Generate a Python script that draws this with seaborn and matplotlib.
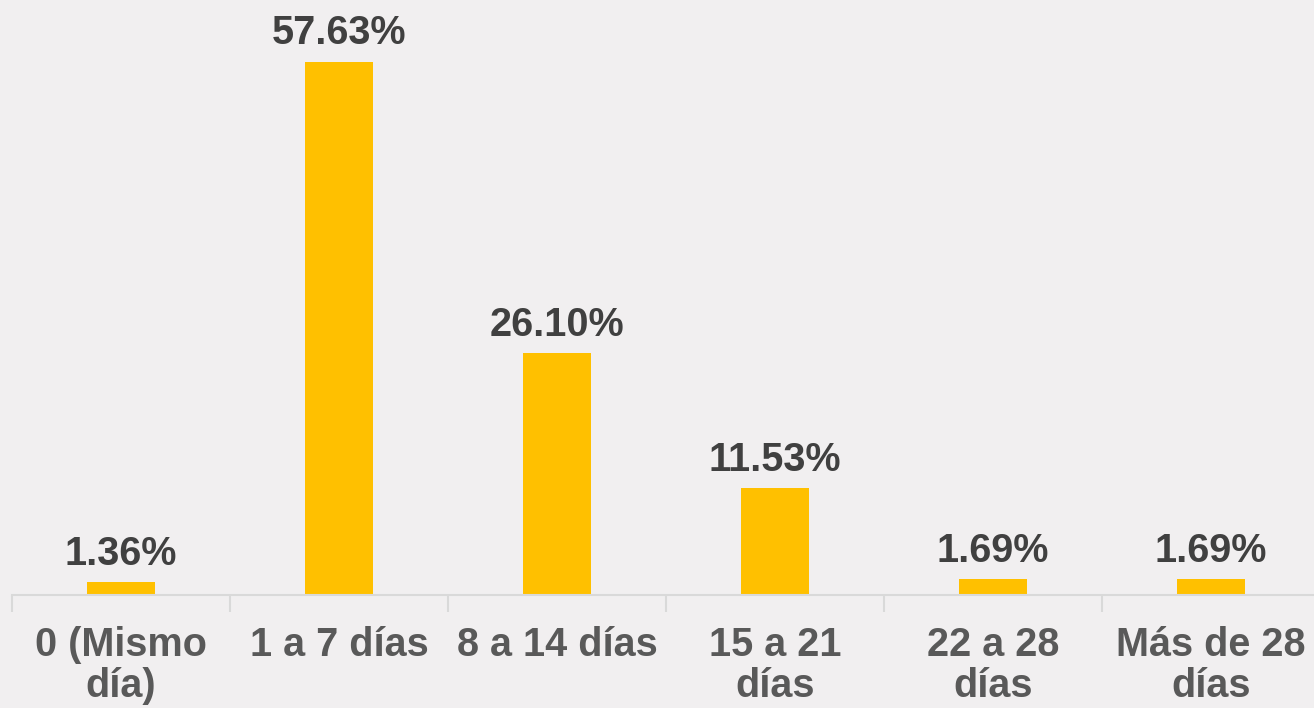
import matplotlib
matplotlib.use("Agg")
import matplotlib.pyplot as plt
import seaborn as sns
import pandas as pd
import numpy as np

categorias = ["0 (Mismo\ndía)", "1 a 7 días", "8 a 14 días", "15 a 21\ndías", "22 a 28\ndías", "Más de 28\ndías"]
porcentajes = [1.36, 57.63, 26.10, 11.53, 1.69, 1.69]

df = pd.DataFrame({"cat": categorias, "pct": porcentajes})

bg = "#F1EFF0"
sns.set_style("white")
plt.rcParams["font.family"] = ["Liberation Sans", "DejaVu Sans"]

fig = plt.figure(figsize=(13.14, 7.08), dpi=100, facecolor=bg)
ax = fig.add_axes([12 / 1314, 113 / 708, 1308 / 1314, 595 / 708])
ax.set_facecolor(bg)

sns.barplot(data=df, x="cat", y="pct", color="#FFC000", width=0.316, saturation=1,
            linewidth=0, edgecolor="none", ax=ax)

for i, v in enumerate(porcentajes):
    ax.text(i, v + 1.05, f"{v:.2f}%", ha="center", va="bottom", fontsize=28.5,
            fontweight="bold", color="#404040")

ax.set_xlim(-0.5, len(categorias) - 0.5)
ax.set_ylim(0, 64.3)
ax.set_xlabel("")
ax.set_ylabel("")
ax.set_yticks([])
for s in ["top", "right", "left"]:
    ax.spines[s].set_visible(False)
ax.spines["bottom"].set_color("#D9D9D9")
ax.spines["bottom"].set_linewidth(1.5)

ax.set_xticks(np.arange(len(categorias)) - 0.5, minor=True)
ax.tick_params(axis="x", which="minor", bottom=True, length=12, width=1.5, color="#D9D9D9")
ax.tick_params(axis="x", which="major", bottom=True, length=0, pad=22)
ax.set_xticklabels(categorias, fontsize=28.5, fontweight="bold", color="#595959",
                   linespacing=1.12)

fig.savefig("out.png", dpi=100, facecolor=bg)
